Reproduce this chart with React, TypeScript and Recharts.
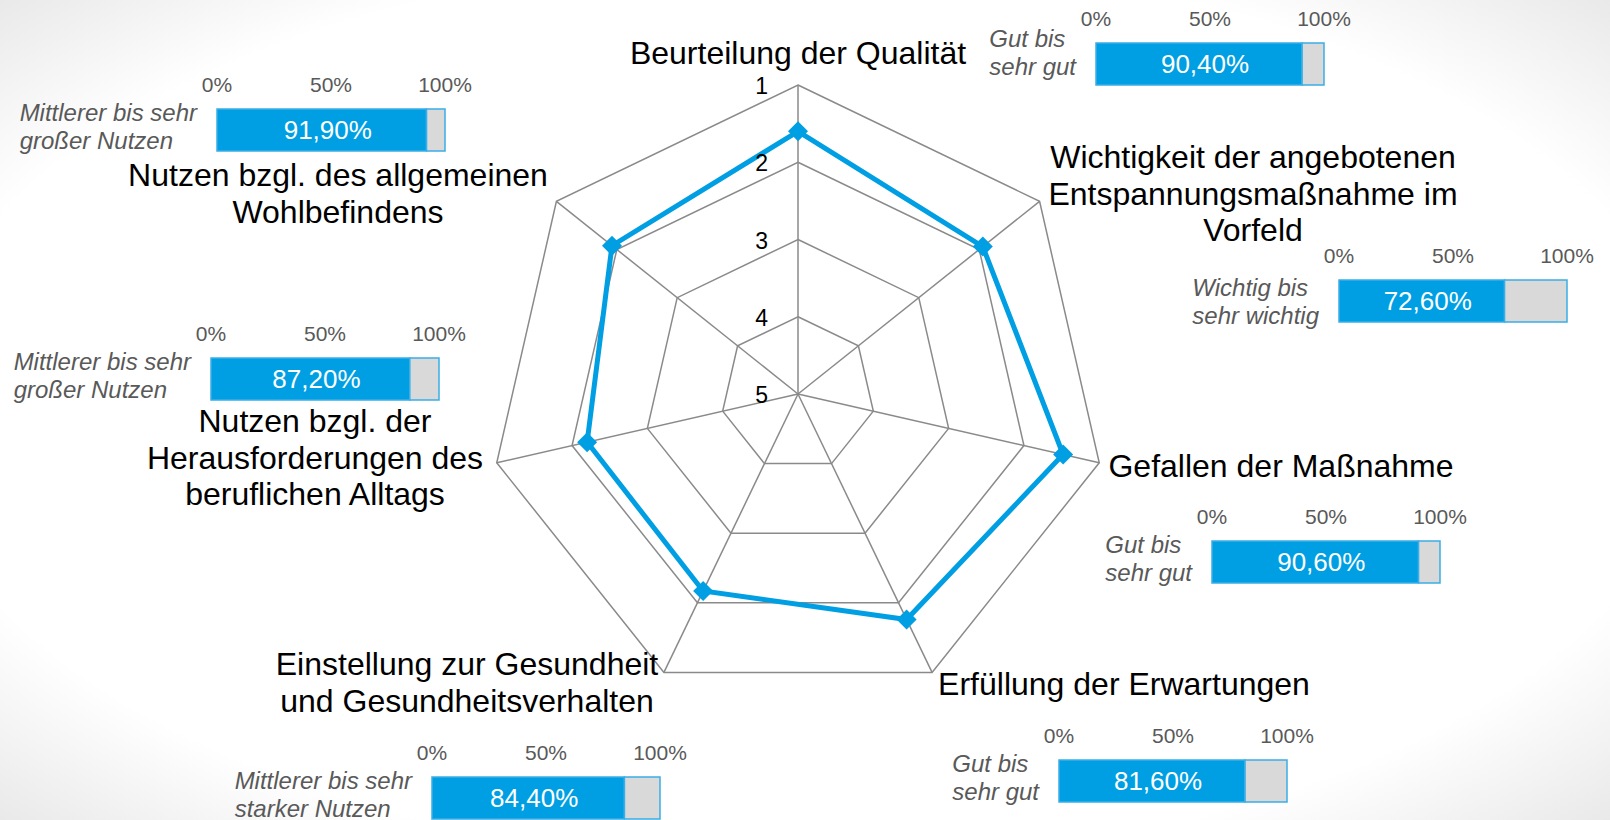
import {
  Bar,
  BarChart,
  LabelList,
  PolarAngleAxis,
  PolarGrid,
  PolarRadiusAxis,
  Radar,
  RadarChart,
  XAxis,
  YAxis,
} from "recharts";

// axis categories, clockwise from the top
const categories = [
  "Beurteilung der Qualität",
  "Wichtigkeit der angebotenen\nEntspannungsmaßnahme im\nVorfeld",
  "Gefallen der Maßnahme",
  "Erfüllung der Erwartungen",
  "Einstellung zur Gesundheit\nund Gesundheitsverhalten",
  "Nutzen bzgl. der\nHerausforderungen des\nberuflichen Alltags",
  "Nutzen bzgl. des allgemeinen\nWohlbefindens",
];

// mean rating (1 = best, 5 = worst)
const meanScores = [1.6, 1.94, 1.48, 1.76, 2.17, 2.2, 1.92];

// share of positive answers, in %
const shareValues = [90.4, 72.6, 90.6, 81.6, 84.4, 87.2, 91.9];
const shareLabels = [
  "Gut bis\nsehr gut",
  "Wichtig bis\nsehr wichtig",
  "Gut bis\nsehr gut",
  "Gut bis\nsehr gut",
  "Mittlerer bis sehr\nstarker Nutzen",
  "Mittlerer bis sehr\ngroßer Nutzen",
  "Mittlerer bis sehr\ngroßer Nutzen",
];
const percentTicks = [0, 50, 100];

const FONT = "'Liberation Sans', Arial, sans-serif";
const BLUE = "#009FE3";
const EDGE = "#3AAEE6";
const GRID = "#8A8A8A";
const WORST = 5;

// layout
const CX = 798;
const CY = 394;
const RADIUS = 309;
const LINE_H = 36.5;
const labelPos = [
  { x: 798, y: 64 },
  { x: 1253, y: 168 },
  { x: 1281, y: 477 },
  { x: 1124, y: 695 },
  { x: 467, y: 675 },
  { x: 315, y: 432 },
  { x: 338, y: 186 },
];
const miniPos = [
  { left: 1096, top: 43, dy: -8 },
  { left: 1339, top: 280, dy: 4 },
  { left: 1212, top: 541, dy: 0 },
  { left: 1059, top: 760, dy: 0 },
  { left: 432, top: 777, dy: 0 },
  { left: 211, top: 358, dy: 0 },
  { left: 217, top: 109, dy: 0 },
];
const Y_AXIS_W = 220;
const X_AXIS_H = 40;
const BAR_W = 228;
const BAR_H = 42;

const radarData = categories.map((name, i) => ({
  name,
  score: meanScores[i],
  r: WORST - meanScores[i],
}));

let measureCtx: CanvasRenderingContext2D | null = null;
function textWidth(s: string, font: string) {
  if (!measureCtx) measureCtx = document.createElement("canvas").getContext("2d");
  if (!measureCtx) return s.length * 11;
  measureCtx.font = font;
  return measureCtx.measureText(s).width;
}

function AngleTick(props: any) {
  const i = categories.indexOf(props.payload?.value);
  if (i < 0) return null;
  const pos = labelPos[i];
  const lines = categories[i].split("\n");
  return (
    <text textAnchor="middle" fontSize={32} fill="#000" fontFamily={FONT}>
      {lines.map((l, k) => (
        <tspan key={k} x={pos.x} y={pos.y + k * LINE_H}>
          {l}
        </tspan>
      ))}
    </text>
  );
}

function RadiusTick(props: any) {
  const { x, y, payload } = props;
  return (
    <text x={x - 30} y={y + 9} textAnchor="end" fontSize={23} fill="#000" fontFamily={FONT}>
      {WORST - payload.value}
    </text>
  );
}

function renderDiamond(props: any) {
  const { cx, cy, index } = props;
  const s = 10;
  return (
    <polygon
      key={`d-${index}`}
      points={`${cx},${cy - s} ${cx + s},${cy} ${cx},${cy + s} ${cx - s},${cy}`}
      fill={BLUE}
    />
  );
}

function PercentTick(props: any) {
  const { x, y, payload } = props;
  return (
    <text x={x} y={y - 17} textAnchor="middle" fontSize={21} fill="#595959" fontFamily={FONT}>
      {payload.value}%
    </text>
  );
}

function ShareLabel(props: any) {
  const { x, y, payload, dy } = props;
  const lines = String(payload.value).split("\n");
  const font = `italic 24px ${FONT}`;
  const w = Math.max(...lines.map((l) => textWidth(l, font)));
  const x0 = x - 20 - w;
  return (
    <text textAnchor="start" fontSize={24} fontStyle="italic" fill="#595959" fontFamily={FONT}>
      {lines.map((l, k) => (
        <tspan key={k} x={x0} y={y - 9 + dy + k * 28}>
          {l}
        </tspan>
      ))}
    </text>
  );
}

function ValueLabel(props: any) {
  const { x, y, width, height, value } = props;
  const txt = `${Number(value).toFixed(2).replace(".", ",")}%`;
  return (
    <text
      x={x + width / 2 + 6}
      y={y + height / 2 + 9}
      textAnchor="middle"
      fontSize={26}
      fill="#fff"
      fontFamily={FONT}
    >
      {txt}
    </text>
  );
}

function MiniBar({ i }: { i: number }) {
  const p = miniPos[i];
  const data = [{ name: shareLabels[i], value: shareValues[i], rest: 100 - shareValues[i] }];
  return (
    <div style={{ position: "absolute", left: p.left - Y_AXIS_W, top: p.top - X_AXIS_H }}>
      <BarChart
        width={Y_AXIS_W + BAR_W + 30}
        height={X_AXIS_H + BAR_H + 2}
        data={data}
        layout="vertical"
        margin={{ top: 0, right: 30, bottom: 2, left: 0 }}
        barCategoryGap={0}
      >
        <XAxis
          type="number"
          domain={[0, 100]}
          ticks={percentTicks}
          interval={0}
          orientation="top"
          height={X_AXIS_H}
          axisLine={false}
          tickLine={false}
          tickSize={0}
          tickMargin={0}
          tick={PercentTick}
        />
        <YAxis
          type="category"
          dataKey="name"
          width={Y_AXIS_W}
          axisLine={false}
          tickLine={false}
          tickSize={0}
          tickMargin={0}
          tick={(t: any) => <ShareLabel {...t} dy={p.dy} />}
        />
        <Bar dataKey="value" stackId="s" fill={BLUE} stroke={EDGE} strokeWidth={1.5} isAnimationActive={false}>
          <LabelList dataKey="value" content={ValueLabel} />
        </Bar>
        <Bar dataKey="rest" stackId="s" fill="#D9D9D9" stroke={EDGE} strokeWidth={1.5} isAnimationActive={false} />
      </BarChart>
    </div>
  );
}

export default function App() {
  return (
    <div
      style={{
        position: "absolute",
        left: 0,
        top: 0,
        width: 1610,
        height: 820,
        overflow: "hidden",
        fontFamily: FONT,
        background: "radial-gradient(ellipse at center, #ffffff 78%, #e9e9e9 100%)",
      }}
    >
      <style>{`.recharts-surface { overflow: visible; }`}</style>
      <RadarChart
        width={1610}
        height={820}
        data={radarData}
        cx={CX}
        cy={CY}
        outerRadius={RADIUS}
        margin={{ top: 0, right: 0, bottom: 0, left: 0 }}
      >
        <PolarGrid gridType="polygon" stroke={GRID} strokeWidth={1.5} />
        <PolarAngleAxis dataKey="name" tick={AngleTick} tickLine={false} axisLine={false} />
        <PolarRadiusAxis
          angle={90}
          domain={[0, 4]}
          tickCount={5}
          axisLine={false}
          tickLine={false}
          tick={RadiusTick}
        />
        <Radar
          dataKey="r"
          stroke={BLUE}
          strokeWidth={5}
          fill="none"
          fillOpacity={0}
          dot={renderDiamond}
          isAnimationActive={false}
        />
      </RadarChart>
      {shareValues.map((_, i) => (
        <MiniBar key={i} i={i} />
      ))}
    </div>
  );
}
